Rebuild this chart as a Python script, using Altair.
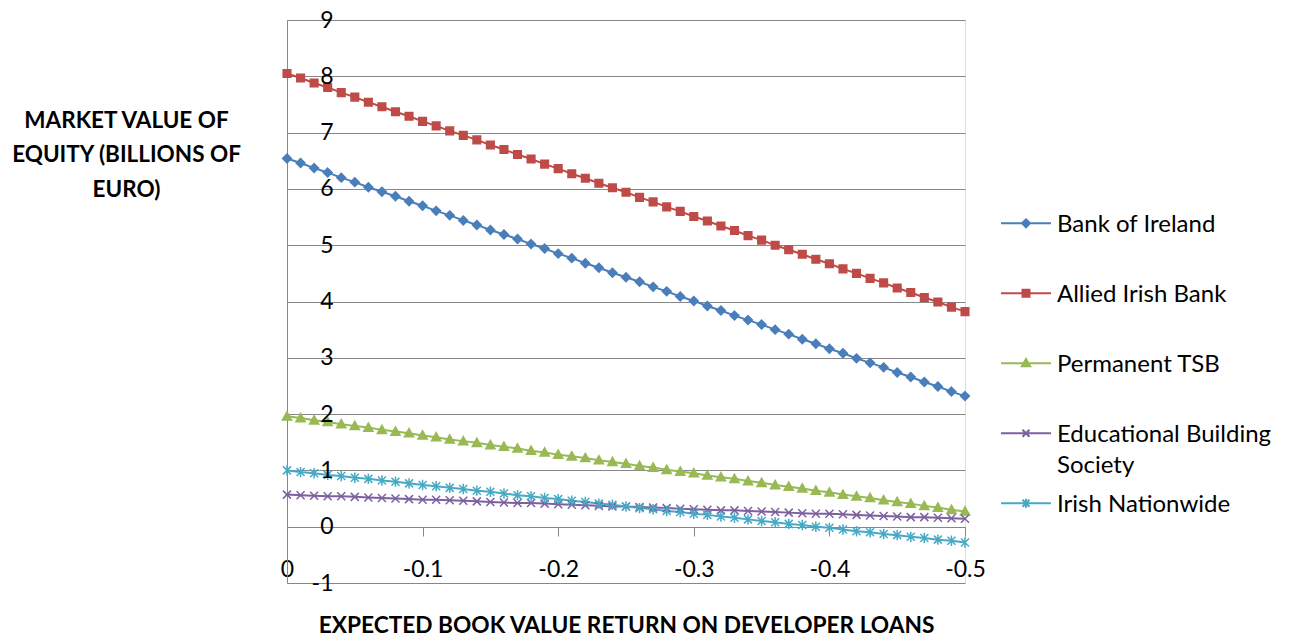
import altair as alt
import pandas as pd

x_values = [0, -0.01, -0.02, -0.03, -0.04, -0.05, -0.06, -0.07, -0.08, -0.09,
            -0.1, -0.11, -0.12, -0.13, -0.14, -0.15, -0.16, -0.17, -0.18, -0.19,
            -0.2, -0.21, -0.22, -0.23, -0.24, -0.25, -0.26, -0.27, -0.28, -0.29,
            -0.3, -0.31, -0.32, -0.33, -0.34, -0.35, -0.36, -0.37, -0.38, -0.39,
            -0.4, -0.41, -0.42, -0.43, -0.44, -0.45, -0.46, -0.47, -0.48, -0.49, -0.5]

series_names = ["Bank of Ireland", "Allied Irish Bank", "Permanent TSB",
                "Educational Building Society", "Irish Nationwide"]

bank_of_ireland = [6.54, 6.46, 6.37, 6.29, 6.20, 6.12, 6.03, 5.95, 5.87, 5.78,
                   5.70, 5.61, 5.53, 5.44, 5.36, 5.27, 5.19, 5.11, 5.02, 4.94,
                   4.85, 4.77, 4.68, 4.60, 4.51, 4.43, 4.35, 4.26, 4.18, 4.09,
                   4.01, 3.92, 3.84, 3.75, 3.67, 3.59, 3.50, 3.42, 3.33, 3.25,
                   3.16, 3.08, 2.99, 2.91, 2.83, 2.74, 2.66, 2.57, 2.49, 2.40, 2.32]
allied_irish = [8.05, 7.97, 7.88, 7.80, 7.71, 7.63, 7.54, 7.46, 7.37, 7.29,
                7.20, 7.12, 7.03, 6.95, 6.87, 6.78, 6.70, 6.61, 6.53, 6.44,
                6.36, 6.27, 6.19, 6.10, 6.02, 5.94, 5.85, 5.77, 5.68, 5.60,
                5.51, 5.43, 5.34, 5.26, 5.17, 5.09, 5.00, 4.92, 4.84, 4.75,
                4.67, 4.58, 4.50, 4.41, 4.33, 4.24, 4.16, 4.07, 3.99, 3.90, 3.82]
permanent_tsb = [1.96, 1.93, 1.89, 1.86, 1.82, 1.79, 1.76, 1.72, 1.69, 1.66,
                 1.62, 1.59, 1.55, 1.52, 1.49, 1.45, 1.42, 1.39, 1.35, 1.32,
                 1.28, 1.25, 1.22, 1.18, 1.15, 1.12, 1.08, 1.05, 1.01, 0.98,
                 0.95, 0.91, 0.88, 0.85, 0.81, 0.78, 0.74, 0.71, 0.68, 0.64,
                 0.61, 0.57, 0.54, 0.51, 0.47, 0.44, 0.41, 0.37, 0.34, 0.30, 0.27]
educational_bs = [0.57, 0.56, 0.55, 0.54, 0.54, 0.53, 0.52, 0.51, 0.50, 0.49,
                  0.48, 0.48, 0.47, 0.46, 0.45, 0.44, 0.43, 0.42, 0.42, 0.41,
                  0.40, 0.39, 0.38, 0.37, 0.36, 0.36, 0.35, 0.34, 0.33, 0.32,
                  0.31, 0.30, 0.29, 0.29, 0.28, 0.27, 0.26, 0.25, 0.24, 0.23,
                  0.23, 0.22, 0.21, 0.20, 0.19, 0.18, 0.17, 0.17, 0.16, 0.15, 0.14]
irish_nationwide = [1.00, 0.97, 0.95, 0.92, 0.90, 0.87, 0.85, 0.82, 0.80, 0.77,
                    0.74, 0.72, 0.69, 0.67, 0.64, 0.62, 0.59, 0.56, 0.54, 0.51,
                    0.49, 0.46, 0.44, 0.41, 0.39, 0.36, 0.33, 0.31, 0.28, 0.26,
                    0.23, 0.21, 0.18, 0.16, 0.13, 0.10, 0.08, 0.05, 0.03, 0.00,
                    -0.02, -0.05, -0.08, -0.10, -0.13, -0.15, -0.18, -0.20, -0.23, -0.25, -0.28]

x_ticks = [0, -0.1, -0.2, -0.3, -0.4, -0.5]
y_ticks = [-1, 0, 1, 2, 3, 4, 5, 6, 7, 8, 9]

colors = ["#4A7EBB", "#BE4B48", "#98B954", "#7D60A0", "#46AAC5"]

# marker shapes (unit = half of sqrt(size))
point_shapes = [
    "M0,-1.1L1.1,0L0,1.1L-1.1,0Z",
    "M-0.95,-0.95H0.95V0.95H-0.95Z",
    "M0,-1.15L1.15,0.9H-1.15Z",
    "M-1,-1L1,1M-1,1L1,-1",
    "M-1,-1L1,1M-1,1L1,-1M0,-1.3V1.3",
]
# legend symbols: line + marker (unit = 10px); line starts at the entry's left edge
legend_shapes = [
    "M-1.1,1.03H3.9M1.4,0.63L1.8,1.03L1.4,1.43L1.0,1.03Z",
    "M-1.1,1.03H3.9M1.05,0.68H1.75V1.38H1.05Z",
    "M-1.1,1.03H3.9M1.4,0.6L1.82,1.33H0.98Z",
    "M-1.1,1.03H3.9M1.05,0.68L1.75,1.38M1.05,1.38L1.75,0.68",
    "M-1.1,1.03H3.9M1.05,0.68L1.75,1.38M1.05,1.38L1.75,0.68M1.4,0.58V1.48",
]

all_values = [bank_of_ireland, allied_irish, permanent_tsb, educational_bs, irish_nationwide]
rows = []
for name, vals in zip(series_names, all_values):
    for xv, yv in zip(x_values, vals):
        rows.append({"x": xv, "value": yv, "series": name})
df = pd.DataFrame(rows)

FONT = "Lato"
GRID = "#878787"

x_axis = alt.Axis(
    values=x_ticks, grid=False, offset=-56, tickSize=9, tickColor=GRID,
    domainColor=GRID, labelPadding=22, labelFont=FONT, labelFontSize=23,
    labelColor="black", labelFlush=False, labelOverlap=False, labelBaseline="top",
    labelExpr="datum.value == 0 ? '0' : '-' + format(-datum.value, '.1f')",
    title="EXPECTED BOOK VALUE RETURN ON DEVELOPER LOANS",
    titleFont=FONT, titleFontSize=22.7, titleFontWeight="bold", titleColor="black",
    titleY=98, titleBaseline="middle",
)
x_enc = alt.X("x:Q", scale=alt.Scale(domain=[0, -0.5], nice=False, zero=False), axis=x_axis)
y_scale = alt.Scale(domain=[-1, 9], nice=False, zero=False)

y_grid_axis = alt.Axis(
    orient="left", values=y_ticks, grid=True, gridColor=GRID, gridWidth=1,
    labels=False, ticks=False, domain=True, domainColor=GRID, title=None, zindex=0,
)
y_label_axis = alt.Axis(
    orient="left", values=y_ticks, grid=False, ticks=False, tickSize=0, domain=False,
    labelPadding=-46, labelAlign="right", labelFont=FONT, labelFontSize=23,
    labelColor="black",
    labelExpr="datum.value < 0 ? '-' + format(-datum.value, 'd') : format(datum.value, 'd')",
    title=["MARKET VALUE OF", "EQUITY (BILLIONS OF", "EURO)"],
    titleAngle=0, titleX=-161, titleY=89, titleAlign="center", titleBaseline="top",
    titleLineHeight=34.5, titleFont=FONT, titleFontSize=22.5, titleFontWeight="bold",
    titleColor="black", zindex=1,
)

legend = alt.Legend(
    orient="none", legendX=713, legendY=181, title=None, symbolSize=400,
    symbolStrokeWidth=2, symbolOpacity=1, labelFont=FONT, labelFontSize=24,
    labelColor="black", labelBaseline="top", labelOffset=33, rowPadding=3,
    gridAlign="all", labelLimit=400, padding=0, direction="vertical",
    labelExpr="datum.label == 'Educational Building Society' ? ['Educational Building', 'Society'] : datum.label",
)

base = alt.Chart(df)

lines = base.mark_line(strokeWidth=2).encode(
    x=x_enc,
    y=alt.Y("value:Q", scale=y_scale, axis=y_grid_axis),
    color=alt.Color("series:N", scale=alt.Scale(domain=series_names, range=colors), legend=None),
)

points = base.mark_point(filled=True, size=64, strokeWidth=1.5, opacity=1).encode(
    x=x_enc,
    y=alt.Y("value:Q", scale=y_scale, axis=y_label_axis),
    color=alt.Color("series:N", scale=alt.Scale(domain=series_names, range=colors), legend=None),
    stroke=alt.Stroke("series:N", scale=alt.Scale(domain=series_names, range=colors), legend=None),
    shape=alt.Shape("series:N", scale=alt.Scale(domain=series_names, range=point_shapes), legend=None),
)

legend_layer = base.transform_filter("false").mark_point(strokeWidth=2, opacity=1).encode(
    x=x_enc,
    y=alt.Y("value:Q", scale=y_scale, axis=None),
    fill=alt.Fill("series:N", scale=alt.Scale(domain=series_names, range=colors), legend=legend),
    stroke=alt.Stroke("series:N", scale=alt.Scale(domain=series_names, range=colors), legend=legend),
    shape=alt.Shape("series:N", scale=alt.Scale(domain=series_names, range=legend_shapes), legend=legend),
)

chart = alt.layer(lines, points, legend_layer).resolve_scale(
    color="independent", fill="independent", stroke="independent", shape="independent"
).resolve_axis(
    y="independent"
).properties(
    width=678, height=563,
    autosize=alt.AutoSizeParams(type="none"),
    padding={"left": 279, "top": 12, "right": 324, "bottom": 55},
    background="white",
).configure_view(
    stroke=None
).configure(
    style={"guide-label": {"lineHeight": 30.5}}
)

chart.save("out.html", embed_options={"renderer": "svg", "actions": False})
